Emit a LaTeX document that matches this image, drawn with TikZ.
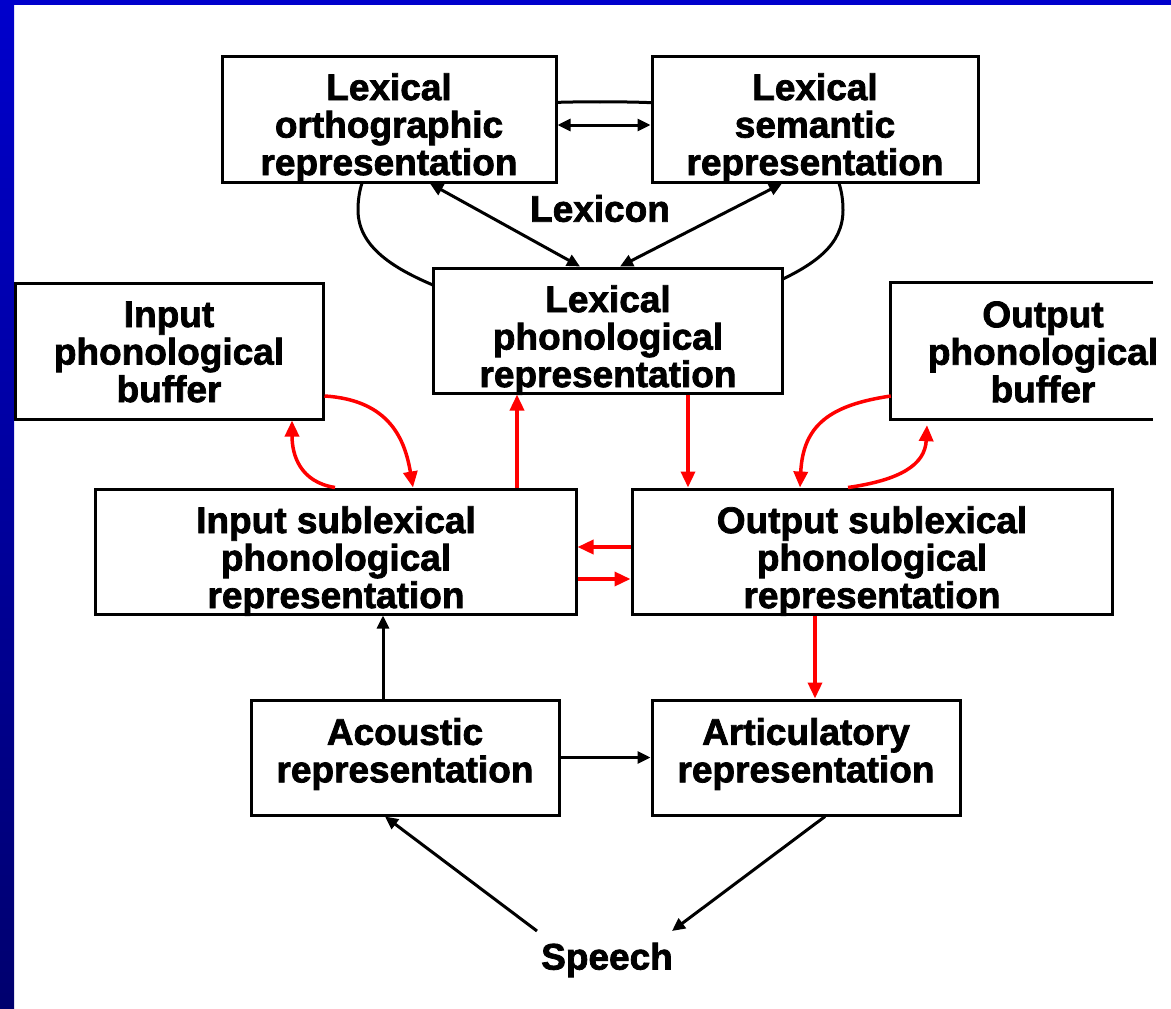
\documentclass[tikz,border=0pt]{standalone}
\usepackage{fontspec}
\setmainfont{Liberation Sans}[BoldFeatures={FakeBold=2}]
\usetikzlibrary{arrows.meta}
\definecolor{barblue}{RGB}{0,0,204}
\definecolor{bardark}{RGB}{0,0,110}
\definecolor{arrred}{RGB}{255,0,0}
\begin{document}
\begin{tikzpicture}[x=1pt,y=-1pt,
  box/.style={draw=black, line width=3pt, fill=white, inner sep=0pt},
  openbox/.style={inner sep=0pt},
  txt/.style={font=\bfseries\fontsize{37}{37.5}\selectfont, align=center, inner sep=0pt, text=black},
  blk/.style={line width=3pt, draw=black, -{Triangle[length=13pt,width=12pt]}},
  blkdbl/.style={line width=3pt, draw=black, {Triangle[length=13pt,width=12pt]}-{Triangle[length=13pt,width=12pt]}},
  redarr/.style={line width=3.5pt, draw=arrred, -{Triangle[length=16pt,width=14pt]}},
  loopline/.style={line width=3pt, draw=black}
]
\useasboundingbox (0,0) rectangle (1171,1009);
\fill[white] (0,0) rectangle (1171,1009);
% frame bars
\shade[top color=barblue, bottom color=bardark] (0,0) rectangle (14,1009);
\fill[barblue] (0,0) rectangle (1171,5);

% Lexicon loop (behind boxes)
\draw[loopline] (600,102) .. controls (450,100) and (358,130) .. (358,210)
  .. controls (358,250) and (400,272) .. (445,290)
  -- (770,285)
  .. controls (815,265) and (843,245) .. (843,210)
  .. controls (843,130) and (750,100) .. (600,102);

% boxes
\node[box, minimum width=334pt, minimum height=126pt] (ortho) at (389,119) {};
\node[box, minimum width=326pt, minimum height=126pt] (sem) at (815,119) {};
\node[box, minimum width=349pt, minimum height=125pt] (phon) at (607.5,330.5) {};
\node[box, minimum width=308pt, minimum height=136pt] (inbuf) at (169,351) {};
\node[openbox, minimum width=262pt, minimum height=136pt] (outbuf) at (1022,351) {};
\draw[line width=3pt] (outbuf.north east) -- (outbuf.north west) -- (outbuf.south west) -- (outbuf.south east);
\node[box, minimum width=481pt, minimum height=125pt] (insub) at (335.5,551.5) {};
\node[box, minimum width=480pt, minimum height=125pt] (outsub) at (872,551.5) {};
\node[box, minimum width=308pt, minimum height=115pt] (acou) at (405,757.5) {};
\node[box, minimum width=308pt, minimum height=115pt] (artic) at (806,757.5) {};

% texts
\node[txt] (ortho-t) at (389,128) {Lexical\\orthographic\\representation};
\node[txt] (sem-t) at (815,128) {Lexical\\semantic\\representation};
\node[txt] (phon-t) at (608,340) {Lexical\\phonological\\representation};
\node[txt] (inbuf-t) at (169,352) {Input\\phonological\\buffer};
\node[txt] (outbuf-t) at (1043,352) {Output\\phonological\\buffer};
\node[txt] (insub-t) at (336,561) {Input sublexical\\phonological\\representation};
\node[txt] (outsub-t) at (872,561) {Output sublexical\\phonological\\representation};
\node[txt] (acou-t) at (405,754) {Acoustic\\representation};
\node[txt] (artic-t) at (806,754) {Articulatory\\representation};
\node[txt] (lexicon) at (600,208.5) {Lexicon};
\node[txt] (speech) at (607,960) {Speech};
\coordinate (sp1) at (537,931);
\coordinate (sp2) at (672,931);

% black connectors
\draw[blkdbl] ([yshift=-6pt]ortho.east) -- ([yshift=-6pt]sem.west);
\draw[blkdbl] ([xshift=41pt]ortho.south) -- ([xshift=-27.5pt]phon.north);
\draw[blkdbl] ([xshift=-33pt]sem.south) -- ([xshift=12.5pt]phon.north);
\draw[blk] ([xshift=-22pt]acou.north) -- ([xshift=47.5pt]insub.south);
\draw[blk] (acou.east) -- (artic.west);
\draw[blk] (sp1) -- ([xshift=-20pt]acou.south);
\draw[blk] ([xshift=19pt]artic.south) -- (sp2);

% red connectors
\draw[redarr] ([xshift=181.5pt]insub.north) -- ([xshift=-90.5pt]phon.south);
\draw[redarr] ([xshift=80.5pt]phon.south) -- ([xshift=-184pt]outsub.north);
\draw[redarr] ([yshift=4.5pt]outsub.west) -- ([yshift=4.5pt]insub.east);
\draw[redarr] ([yshift=-27.5pt]insub.east) -- ([yshift=-27.5pt]outsub.west);
\draw[redarr] ([xshift=-57pt]outsub.south) -- ([xshift=9pt]artic.north);
\draw[redarr] ([yshift=-45pt]inbuf.east) .. controls (390,400) and (405,440) .. ([xshift=77.5pt]insub.north);
\draw[redarr] ([xshift=-0.5pt]insub.north) .. controls (300,482) and (292,455) .. ([xshift=123pt]inbuf.south);
\draw[redarr] ([yshift=-45pt]outbuf.west) .. controls (830,405) and (803,425) .. ([xshift=-72pt]outsub.north);
\draw[redarr] ([xshift=-24pt]outsub.north) .. controls (900,480) and (925,465) .. ([xshift=-95pt,yshift=-6pt]outbuf.south);
\end{tikzpicture}
\end{document}
